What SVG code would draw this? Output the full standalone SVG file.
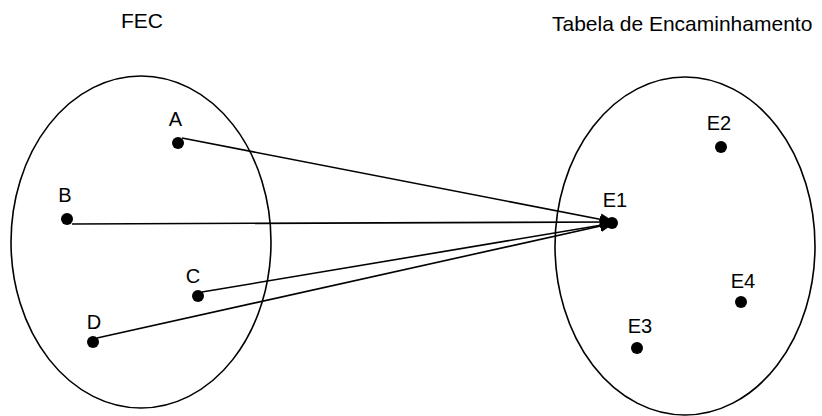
<svg xmlns="http://www.w3.org/2000/svg" width="822" height="416" viewBox="0 0 822 416">
<style>
.set{fill:none;stroke:#000;stroke-width:1.6}
.dot{fill:#000}
.lbl{font-family:"Liberation Sans",Arial,sans-serif;font-size:20px;fill:#000;text-anchor:middle}
.title{font-family:"Liberation Sans",Arial,sans-serif;font-size:21px;fill:#000}
.edge{fill:none;stroke:#000;stroke-width:1.6}
</style>
<defs>
<marker id="arr" markerWidth="16" markerHeight="12" refX="14" refY="6" orient="auto" markerUnits="userSpaceOnUse">
<path d="M0,0 L15,6 L0,12 Z" fill="#000"/>
</marker>
</defs>
<g id="titles">
<text class="title" x="121" y="28">FEC</text>
<text class="title" x="552" y="31">Tabela de Encaminhamento</text>
</g>
<g id="fec-set"><ellipse class="set" cx="141" cy="242" rx="130" ry="166"/></g>
<g id="table-set"><ellipse class="set" cx="685" cy="246" rx="130" ry="169"/></g>
<g id="node-A"><circle class="dot" cx="178" cy="143" r="6"/><text class="lbl" x="175.5" y="126">A</text></g>
<g id="node-B"><circle class="dot" cx="67" cy="219" r="6"/><text class="lbl" x="65" y="202">B</text></g>
<g id="node-C"><circle class="dot" cx="198" cy="296" r="6"/><text class="lbl" x="193" y="283">C</text></g>
<g id="node-D"><circle class="dot" cx="93" cy="342" r="6"/><text class="lbl" x="94" y="329">D</text></g>
<g id="node-E1"><circle class="dot" cx="612" cy="223" r="6"/><text class="lbl" x="615" y="207">E1</text></g>
<g id="node-E2"><circle class="dot" cx="721" cy="147" r="6"/><text class="lbl" x="719" y="130">E2</text></g>
<g id="node-E3"><circle class="dot" cx="637" cy="348" r="6"/><text class="lbl" x="640" y="333">E3</text></g>
<g id="node-E4"><circle class="dot" cx="741" cy="302" r="6"/><text class="lbl" x="743" y="288">E4</text></g>
<g id="connectors">
<line class="edge" x1="182" y1="138" x2="614" y2="222" marker-end="url(#arr)"/>
<line class="edge" x1="72" y1="224" x2="614" y2="222" marker-end="url(#arr)"/>
<line class="edge" x1="202" y1="292" x2="614" y2="223" marker-end="url(#arr)"/>
<line class="edge" x1="97" y1="338" x2="614" y2="223" marker-end="url(#arr)"/>
</g>
</svg>
